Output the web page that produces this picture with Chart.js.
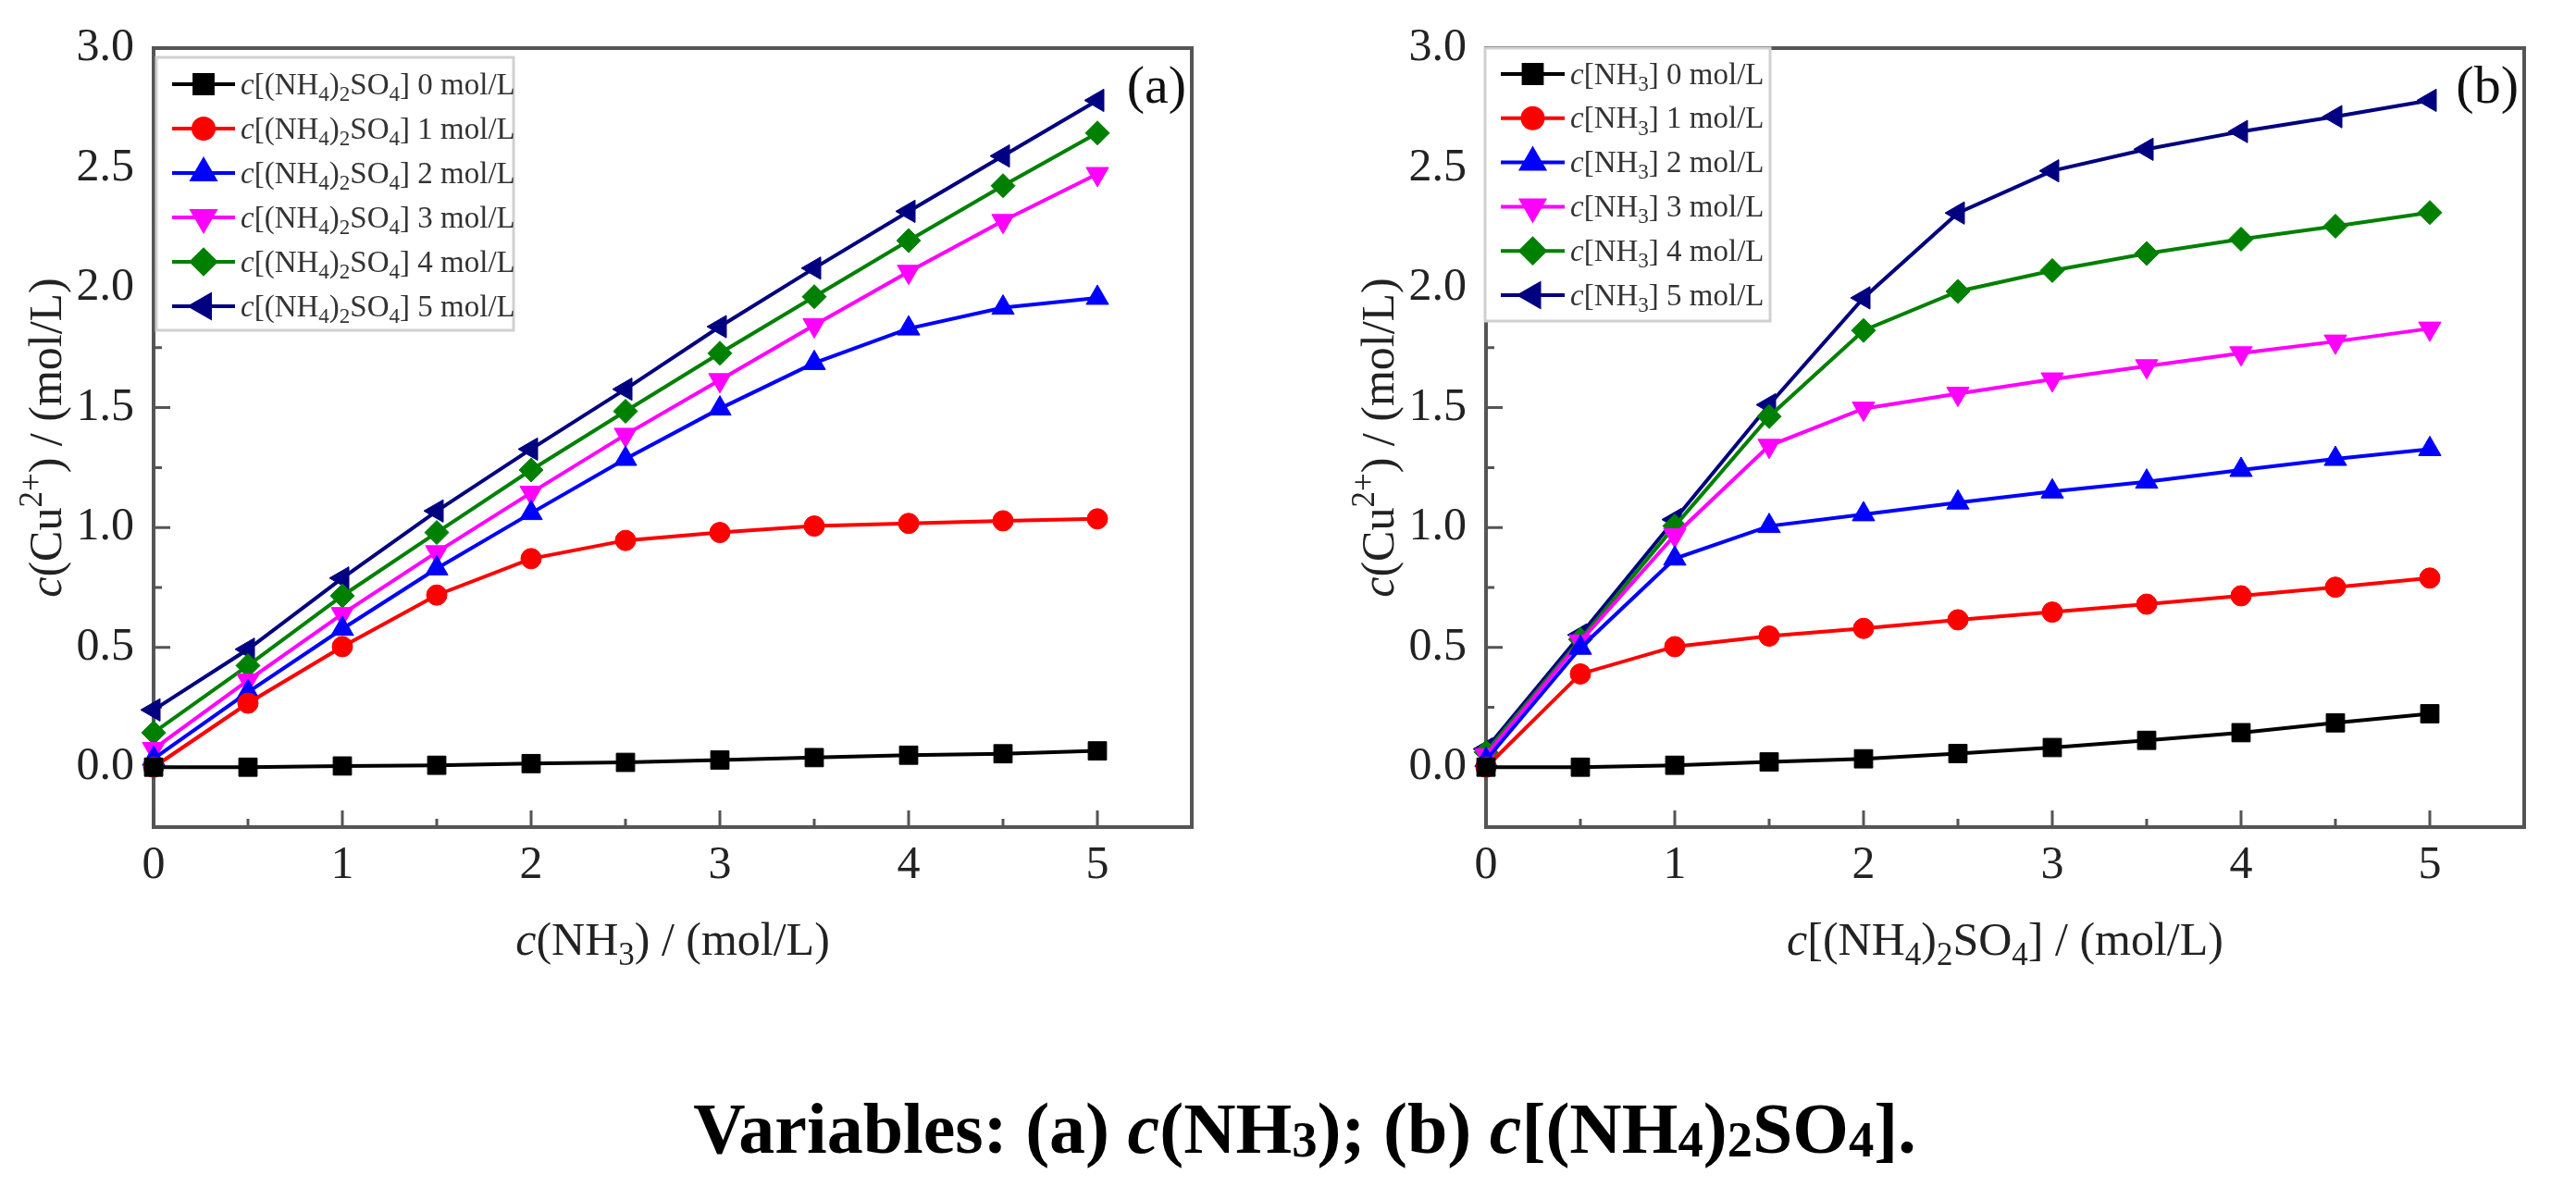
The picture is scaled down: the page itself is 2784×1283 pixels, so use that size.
<!DOCTYPE html>
<html>
<head>
<meta charset="utf-8">
<script src="https://cdn.jsdelivr.net/npm/chart.js@4.4.1/dist/chart.umd.min.js"></script>
<style>
body{margin:0;background:#fff;width:2784px;height:1283px;overflow:hidden;position:relative}
canvas{position:absolute;top:0}
#cA{left:0}
#cB{left:1440px}
.caption{position:absolute;left:36px;width:2748px;top:1181px;text-align:center;font:bold 78px 'Liberation Serif',serif;line-height:78px;color:#000}
.caption .s{font-size:0.7em;position:relative;top:0.08em}
</style>
</head>
<body>
<canvas id="cA" width="1340" height="1110"></canvas>
<canvas id="cB" width="1340" height="1110"></canvas>
<div class="caption">Variables: (a) <i>c</i>(NH<span class="s">3</span>); (b) <i>c</i>[(NH<span class="s">4</span>)<span class="s">2</span>SO<span class="s">4</span>].</div>
<script>
const xValues = [0,0.5,1,1.5,2,2.5,3,3.5,4,4.5,5];
const levels = [0,1,2,3,4,5];
const xTicks = [0,1,2,3,4,5];
const yTicks = [0,0.5,1,1.5,2,2.5,3];

// (a) c(NH3) varied, one curve per (NH4)2SO4 level
const a0 = [0,0,0.005,0.008,0.015,0.02,0.03,0.04,0.05,0.056,0.068];
const a1 = [0,0.267,0.503,0.718,0.87,0.946,0.979,1.006,1.017,1.028,1.036];
const a2 = [0.035,0.313,0.577,0.829,1.06,1.286,1.496,1.686,1.83,1.917,1.958];
const a3 = [0.076,0.362,0.639,0.897,1.145,1.387,1.615,1.844,2.067,2.279,2.475];
const a4 = [0.144,0.424,0.715,0.979,1.24,1.485,1.727,1.963,2.197,2.426,2.646];
const a5 = [0.239,0.492,0.789,1.069,1.327,1.577,1.838,2.082,2.319,2.55,2.782];

// (b) c[(NH4)2SO4] varied, one curve per NH3 level
const b0 = [0,0,0.008,0.022,0.035,0.057,0.082,0.112,0.144,0.185,0.223];
const b1 = [0,0.389,0.503,0.547,0.579,0.615,0.647,0.68,0.715,0.751,0.789];
const b2 = [0.03,0.498,0.87,1.006,1.055,1.104,1.15,1.191,1.24,1.286,1.327];
const b3 = [0.05,0.525,0.968,1.341,1.496,1.558,1.618,1.673,1.727,1.776,1.83];
const b4 = [0.063,0.533,1.006,1.463,1.822,1.985,2.072,2.143,2.203,2.257,2.314];
const b5 = [0.076,0.552,1.033,1.512,1.958,2.312,2.488,2.578,2.652,2.714,2.782];

const colors = ['#000000','#ff0000','#0000ff','#ff00ff','#008000','#000080'];
const shapes = ['rect','circle','triangle','triangle','rectRot','triangle'];
const turns = [0,0,0,180,0,-90];
const sizes = [14,11,14,14,13,14];

const FONT = "'Liberation Serif','Times New Roman',serif";
Chart.defaults.font.family = FONT;

// tiny markup: *c* italic, _3 subscript, ^2+ superscript
function parseRich(str){
  const segs=[]; let italic=false; let i=0; let buf='';
  const push=(t,k)=>{ if(t) segs.push({t,italic,k}); };
  while(i<str.length){
    const ch=str[i];
    if(ch==='*'){ push(buf,'n'); buf=''; italic=!italic; i++; continue; }
    if(ch==='_'||ch==='^'){
      push(buf,'n'); buf=''; i++;
      let run='';
      while(i<str.length && /[0-9+\-]/.test(str[i])){ run+=str[i]; i++; }
      push(run, ch==='_'?'sub':'sup');
      continue;
    }
    buf+=ch; i++;
  }
  push(buf,'n');
  return segs;
}
function plain(str){ return str.replace(/[*_^]/g,''); }

function drawRich(ctx,str,x,y,size,align,color,bold){
  const segs=parseRich(str);
  const fontOf=s=>(s.italic?'italic ':'')+(bold?'bold ':'')+(s.k==='n'?size:size*0.7)+'px '+FONT;
  let total=0;
  segs.forEach(s=>{ ctx.font=fontOf(s); s.w=ctx.measureText(s.t).width; total+=s.w; });
  let cx = align==='center' ? x-total/2 : x;
  const base = y + size*0.32;
  ctx.fillStyle=color; ctx.textAlign='left'; ctx.textBaseline='alphabetic';
  segs.forEach(s=>{
    ctx.font=fontOf(s);
    const dy = s.k==='sub' ? size*0.22 : (s.k==='sup' ? -size*0.42 : 0);
    ctx.fillText(s.t,cx,base+dy);
    cx+=s.w;
  });
}

const framePlugin = {
  id:'frame',
  beforeDatasetsDraw(chart){
    const {ctx, chartArea:a, scales:{x,y}} = chart;
    ctx.save();
    ctx.strokeStyle='#555'; ctx.lineWidth=4;
    ctx.strokeRect(a.left,a.top,a.right-a.left,a.bottom-a.top);
    ctx.lineWidth=3;
    ctx.beginPath();
    xTicks.forEach((v,i)=>{
      const p=x.getPixelForValue(v);
      ctx.moveTo(p,a.bottom); ctx.lineTo(p,a.bottom-18);
      if(i<xTicks.length-1){
        const m=x.getPixelForValue((v+xTicks[i+1])/2);
        ctx.moveTo(m,a.bottom); ctx.lineTo(m,a.bottom-9);
      }
    });
    yTicks.forEach((v,i)=>{
      const p=y.getPixelForValue(v);
      ctx.moveTo(a.left,p); ctx.lineTo(a.left+18,p);
      if(i<yTicks.length-1){
        const m=y.getPixelForValue((v+yTicks[i+1])/2);
        ctx.moveTo(a.left,m); ctx.lineTo(a.left+9,m);
      }
    });
    ctx.stroke();
    ctx.restore();
  },
  afterDraw(chart,args,opts){
    const {ctx, chartArea:a} = chart;
    ctx.save();
    // axis titles
    drawRich(ctx,opts.xTitle,(a.left+a.right)/2,1016,50,'center','#222');
    ctx.save();
    ctx.translate(50,(a.top+a.bottom)/2);
    ctx.rotate(-Math.PI/2);
    drawRich(ctx,'*c*(Cu^2+) / (mol/L)',0,0,50,'center','#222');
    ctx.restore();
    // panel tag
    ctx.font='58px '+FONT; ctx.fillStyle='#111';
    ctx.textAlign='right'; ctx.textBaseline='middle';
    ctx.fillText(opts.tag,a.right-6,96);
    // legend
    const lg=opts.legend;
    ctx.fillStyle='#fff';
    ctx.fillRect(lg.left,lg.top,lg.right-lg.left,lg.bottom-lg.top);
    ctx.strokeStyle='#d0d0d0'; ctx.lineWidth=3;
    ctx.strokeRect(lg.left,lg.top,lg.right-lg.left,lg.bottom-lg.top);
    chart.data.datasets.forEach((ds,i)=>{
      const yy=lg.firstRow+i*lg.rowGap;
      ctx.strokeStyle=ds.borderColor; ctx.lineWidth=4;
      ctx.beginPath(); ctx.moveTo(lg.lineFrom,yy); ctx.lineTo(lg.lineTo,yy); ctx.stroke();
      ctx.fillStyle=ds.backgroundColor;
      Chart.helpers.drawPoint(ctx,{pointStyle:ds.pointStyle,rotation:ds.pointRotation,radius:ds.pointRadius,borderWidth:1},(lg.lineFrom+lg.lineTo)/2,yy);
      drawRich(ctx,ds.rich,lg.textX,yy,33,'left','#333');
    });
    ctx.restore();
  }
};

function makeChart(id,series,labelTpl,xTitle,tag,legend){
  const datasets = series.map((arr,i)=>{
    const rich = labelTpl.replace('{n}',levels[i]);
    return {
      label: plain(rich),
      rich: rich,
      data: xValues.map((x,k)=>({x:x,y:arr[k]})),
      borderColor: colors[i],
      backgroundColor: colors[i],
      borderWidth: 4,
      pointStyle: shapes[i],
      pointRotation: turns[i],
      pointRadius: sizes[i],
      pointHoverRadius: sizes[i],
      pointBorderWidth: 1,
      tension: 0,
      fill: false,
      clip: false
    };
  });
  return new Chart(document.getElementById(id),{
    type:'line',
    data:{datasets},
    plugins:[framePlugin],
    options:{
      responsive:false,
      devicePixelRatio:1,
      animation:false,
      events:[],
      layout:{padding:{top:52,right:52,left:0,bottom:0}},
      plugins:{
        legend:{display:false},
        tooltip:{enabled:false},
        frame:{xTitle,tag,legend}
      },
      scales:{
        x:{
          type:'linear', min:0, max:5.5,
          afterBuildTicks:s=>{ s.ticks = xTicks.map(v=>({value:v})); },
          afterFit:s=>{ s.height=216; },
          grid:{display:false,drawTicks:false},
          border:{display:false},
          ticks:{font:{size:50},color:'#222',padding:12,maxRotation:0,autoSkip:false,callback:v=>String(v)}
        },
        y:{
          type:'linear', min:-0.25, max:3,
          afterBuildTicks:s=>{ s.ticks = yTicks.map(v=>({value:v})); },
          afterFit:s=>{ s.width=166; },
          grid:{display:false,drawTicks:false},
          border:{display:false},
          ticks:{font:{size:50},color:'#222',padding:21,autoSkip:false,callback:v=>Number(v).toFixed(1)}
        }
      }
    }
  });
}

makeChart('cA',[a0,a1,a2,a3,a4,a5],'*c*[(NH_4)_2SO_4] {n} mol/L','*c*(NH_3) / (mol/L)','(a)',
  {left:169,top:62,right:555,bottom:357,firstRow:91,rowGap:48,lineFrom:186,lineTo:254,textX:260});
makeChart('cB',[b0,b1,b2,b3,b4,b5],'*c*[NH_3] {n} mol/L','*c*[(NH_4)_2SO_4] / (mol/L)','(b)',
  {left:165,top:52,right:473,bottom:347,firstRow:80,rowGap:47.8,lineFrom:182,lineTo:251,textX:257});
</script>
</body>
</html>
